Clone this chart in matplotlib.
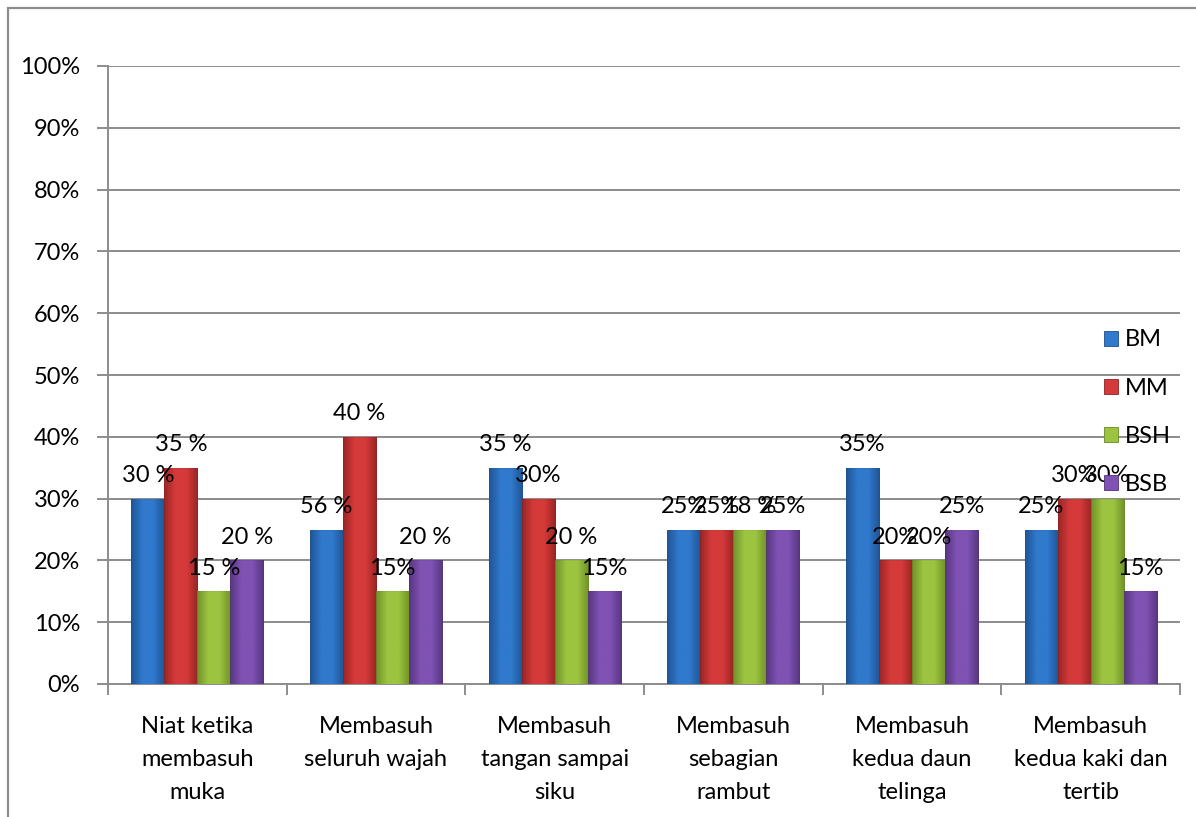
import matplotlib
matplotlib.use("Agg")
import matplotlib.pyplot as plt
import numpy as np
from matplotlib.patches import Patch, Rectangle
from matplotlib.colors import LinearSegmentedColormap

### DATA
categories = ["Niat ketika\nmembasuh\nmuka", "Membasuh\nseluruh wajah",
              "Membasuh\ntangan sampai\nsiku", "Membasuh\nsebagian\nrambut",
              "Membasuh\nkedua daun\ntelinga", "Membasuh\nkedua kaki dan\ntertib"]
series = ["BM", "MM", "BSH", "BSB"]
bm = [30, 25, 35, 25, 35, 25]
mm = [35, 40, 30, 25, 20, 30]
bsh = [15, 15, 20, 25, 20, 30]
bsb = [20, 20, 15, 25, 25, 15]
# labels as printed on the chart (some do not match the bar heights)
bm_lbl = ["30 %", "56 %", "35 %", "25%", "35%", "25%"]
mm_lbl = ["35 %", "40 %", "30%", "25%", "20%", "30%"]
bsh_lbl = ["15 %", "15%", "20 %", "18 %", "20%", "30%"]
bsb_lbl = ["20 %", "20 %", "15%", "25%", "25%", "15%"]
yticks = [0, 10, 20, 30, 40, 50, 60, 70, 80, 90, 100]
### END of data

colors = ["#3079cc", "#d53a3a", "#9dc440", "#7f52b3"]
dark = ["#1d4f8c", "#8f2220", "#688a24", "#523277"]
fs = 17

plt.rcParams['font.family'] = ['Lato', 'DejaVu Sans']
fig = plt.figure(figsize=(11.96, 8.17), dpi=100)
ax = fig.add_axes([108/1196, 1-684/817, (1180-108)/1196, (684-66)/817])

x = np.arange(len(categories))
w = 0.185
values = [bm, mm, bsh, bsb]
labels = [bm_lbl, mm_lbl, bsh_lbl, bsb_lbl]

for i, (vals, lbls) in enumerate(zip(values, labels)):
    pos = x + (i - 1.5) * w
    bars = ax.bar(pos, vals, width=w, color=colors[i], edgecolor=dark[i],
                  linewidth=0.6, zorder=3)
    # soft horizontal shading like the office chart style
    cmap = LinearSegmentedColormap.from_list(
        "g%d" % i, [dark[i], colors[i], colors[i], dark[i]])
    grad = np.linspace(0, 1, 64).reshape(1, -1)
    for b in bars:
        im = ax.imshow(grad, extent=[b.get_x(), b.get_x() + b.get_width(),
                                     0, b.get_height()],
                       aspect='auto', cmap=cmap, zorder=3.5, alpha=0.85)
        im.set_clip_path(b)
    for p, v, t in zip(pos, vals, lbls):
        ax.annotate(t, (p, v), xytext=(0, 12), textcoords="offset points",
                    ha="center", va="baseline", fontsize=fs, zorder=5)

ax.set_xlim(-0.5, len(categories) - 0.5)
ax.set_ylim(0, 100)
ax.set_yticks(yticks)
ax.set_yticklabels(["%d%%" % t for t in yticks])
ax.yaxis.grid(True, color="#8c8c8c", linewidth=1.4, zorder=0)
ax.set_axisbelow(True)

# category boundaries as major ticks, names as minor ticks
ax.set_xticks(np.arange(len(categories) + 1) - 0.5)
ax.set_xticklabels([])
ax.set_xticks(x, minor=True)
ax.set_xticklabels(categories, minor=True, fontsize=fs, linespacing=1.7)
ax.tick_params(axis="x", which="minor", length=0, pad=23)
ax.tick_params(axis="x", which="major", length=8, width=1.4, color="#8c8c8c")
ax.tick_params(axis="y", length=8, width=1.4, color="#8c8c8c", pad=12,
               labelsize=fs)

for s in ["top", "right"]:
    ax.spines[s].set_visible(False)
for s in ["left", "bottom"]:
    ax.spines[s].set_color("#8c8c8c")
    ax.spines[s].set_linewidth(1.4)

handles = [Patch(facecolor=c, edgecolor=d, linewidth=0.6)
           for c, d in zip(colors, dark)]
ax.legend(handles, series, loc="center left", bbox_to_anchor=(0.92, 0.44),
          frameon=False, fontsize=fs, handlelength=0.6, handleheight=0.6,
          handletextpad=0.3, labelspacing=1.15, borderaxespad=0)

# outer chart frame (cut off at right and bottom)
fig.patches.append(Rectangle((8/1196, -0.1), 1.2, 0.1 + (817-8)/817,
                             transform=fig.transFigure, fill=False,
                             edgecolor="#8c8c8c", linewidth=1.6))

fig.savefig("out.png", dpi=100)
